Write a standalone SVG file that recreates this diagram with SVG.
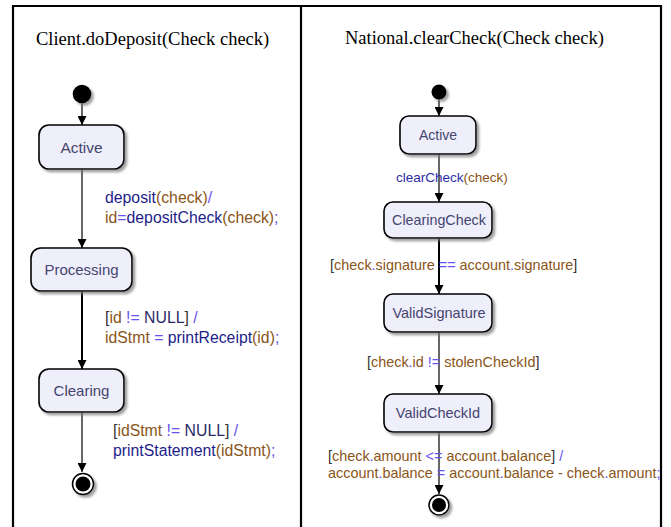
<svg xmlns="http://www.w3.org/2000/svg" width="671" height="527" viewBox="0 0 671 527">
<style>
.title{font-family:"Liberation Serif","Times New Roman",serif;font-size:18.5px;fill:#000}
.box{fill:#efeffc;stroke:#000;stroke-width:1.6}
.bt{font-family:"Liberation Sans",Arial,sans-serif;fill:#45456e;text-anchor:middle}
.lbl{font-family:"Liberation Sans",Arial,sans-serif}
.L{font-size:15.8px}
.R{font-size:14.4px}
.fn{fill:#1d1d8a}
.fn2{fill:#2c2ca6}
.v{fill:#8a5518}
.op{fill:#6652ee}
.br{fill:#333333}
.k{fill:#2a2a66}
.edge{stroke:#000;stroke-width:1.2;fill:none;marker-end:url(#ah)}
.thick{stroke-width:2}
</style>
<defs>
<marker id="ah" viewBox="0 0 10 10" refX="10" refY="5" markerWidth="9" markerHeight="9" markerUnits="userSpaceOnUse" orient="auto">
<path d="M0,0 L10,5 L0,10 z" fill="#000"/>
</marker>
<filter id="sh" x="-20%" y="-20%" width="150%" height="160%">
<feDropShadow dx="2.5" dy="2.5" stdDeviation="1.2" flood-color="#777" flood-opacity="0.7"/>
</filter>
</defs>
<rect width="671" height="527" fill="#fff"/>
<path d="M13,540 V6 H661 V540 M301,6 V540" fill="none" stroke="#000" stroke-width="2.2"/>
<text class="title" x="36" y="45">Client.doDeposit(Check check)</text>
<text class="title" x="345" y="44">National.clearCheck(Check check)</text>

<g id="connectors">
<line class="edge" x1="82" y1="103" x2="82" y2="125"/>
<line class="edge" x1="82" y1="169" x2="82" y2="248"/>
<line class="edge thick" x1="82" y1="291" x2="82" y2="369"/>
<line class="edge" x1="82" y1="412" x2="82" y2="472"/>
<line class="edge" x1="439" y1="99" x2="439" y2="116"/>
<line class="edge" x1="439" y1="154" x2="439" y2="202"/>
<line class="edge thick" x1="439" y1="238" x2="439" y2="294"/>
<line class="edge" x1="439" y1="332" x2="439" y2="394"/>
<line class="edge" x1="439" y1="432" x2="439" y2="494"/>
<text class="lbl L" x="105" y="203"><tspan class="fn">deposit</tspan><tspan class="v">(check)</tspan><tspan class="op">/</tspan></text>
<text class="lbl L" x="105" y="223"><tspan class="v">id</tspan><tspan class="op">=</tspan><tspan class="fn">depositCheck</tspan><tspan class="v">(check)</tspan><tspan class="op">;</tspan></text>
<text class="lbl L" x="105" y="323"><tspan class="br">[</tspan><tspan class="v">id</tspan> <tspan class="op">!=</tspan> <tspan class="k">NULL</tspan><tspan class="br">]</tspan> <tspan class="op">/</tspan></text>
<text class="lbl L" x="105" y="343"><tspan class="v">idStmt</tspan> <tspan class="op">=</tspan> <tspan class="fn">printReceipt</tspan><tspan class="v">(id)</tspan><tspan class="op">;</tspan></text>
<text class="lbl L" x="113" y="436"><tspan class="br">[</tspan><tspan class="v">idStmt</tspan> <tspan class="op">!=</tspan> <tspan class="k">NULL</tspan><tspan class="br">]</tspan> <tspan class="op">/</tspan></text>
<text class="lbl L" x="113" y="456"><tspan class="fn">printStatement</tspan><tspan class="v">(idStmt)</tspan><tspan class="op">;</tspan></text>
<text class="lbl" font-size="13.5" x="396" y="182"><tspan class="fn2">clearCheck</tspan><tspan class="v">(check)</tspan></text>
<text class="lbl R" x="330" y="270"><tspan class="br">[</tspan><tspan class="v">check</tspan><tspan class="op">.</tspan><tspan class="v">signature</tspan> <tspan class="op">==</tspan> <tspan class="v">account</tspan><tspan class="op">.</tspan><tspan class="v">signature</tspan><tspan class="br">]</tspan></text>
<text class="lbl R" x="367" y="367"><tspan class="br">[</tspan><tspan class="v">check</tspan><tspan class="op">.</tspan><tspan class="v">id</tspan> <tspan class="op">!=</tspan> <tspan class="v">stolenCheckId</tspan><tspan class="br">]</tspan></text>
<text class="lbl R" x="328" y="461"><tspan class="br">[</tspan><tspan class="v">check</tspan><tspan class="op">.</tspan><tspan class="v">amount</tspan> <tspan class="op">&lt;=</tspan> <tspan class="v">account</tspan><tspan class="op">.</tspan><tspan class="v">balance</tspan><tspan class="br">]</tspan> <tspan class="op">/</tspan></text>
<text class="lbl R" x="328" y="478"><tspan class="v">account</tspan><tspan class="op">.</tspan><tspan class="v">balance</tspan> <tspan class="op">=</tspan> <tspan class="v">account</tspan><tspan class="op">.</tspan><tspan class="v">balance</tspan> <tspan class="v">-</tspan> <tspan class="v">check</tspan><tspan class="op">.</tspan><tspan class="v">amount</tspan><tspan class="op">;</tspan></text>
</g>

<g id="L_init"><circle cx="82" cy="94" r="9.3" fill="#000" filter="url(#sh)"/></g>
<g id="L_active"><rect class="box" x="39" y="125" width="85" height="44" rx="10" filter="url(#sh)"/><text class="bt" font-size="15.5" x="81.5" y="153">Active</text></g>
<g id="L_processing"><rect class="box" x="31" y="248" width="101" height="43" rx="10" filter="url(#sh)"/><text class="bt" font-size="15" x="81.5" y="275">Processing</text></g>
<g id="L_clearing"><rect class="box" x="39" y="369" width="85" height="43" rx="10" filter="url(#sh)"/><text class="bt" font-size="15" x="81.5" y="396">Clearing</text></g>
<g id="L_final"><circle cx="83" cy="484" r="10.5" fill="#fff" stroke="#000" stroke-width="1.5" filter="url(#sh)"/><circle cx="83" cy="484" r="7.5" fill="#000"/></g>

<g id="R_init"><circle cx="439" cy="92" r="7.5" fill="#000" filter="url(#sh)"/></g>
<g id="R_active"><rect class="box" x="400" y="116" width="76" height="38" rx="9" filter="url(#sh)"/><text class="bt" font-size="14" x="438" y="140">Active</text></g>
<g id="R_clearingcheck"><rect class="box" x="384" y="202" width="108" height="36" rx="9" filter="url(#sh)"/><text class="bt" font-size="14.3" x="439" y="225">ClearingCheck</text></g>
<g id="R_validsignature"><rect class="box" x="384" y="294" width="108" height="38" rx="9" filter="url(#sh)"/><text class="bt" font-size="14.5" x="439" y="318">ValidSignature</text></g>
<g id="R_validcheckid"><rect class="box" x="384" y="394" width="108" height="38" rx="9" filter="url(#sh)"/><text class="bt" font-size="14.5" x="438" y="418">ValidCheckId</text></g>
<g id="R_final"><circle cx="439" cy="505" r="10" fill="#fff" stroke="#000" stroke-width="1.5" filter="url(#sh)"/><circle cx="439" cy="505" r="7" fill="#000"/></g>
</svg>
